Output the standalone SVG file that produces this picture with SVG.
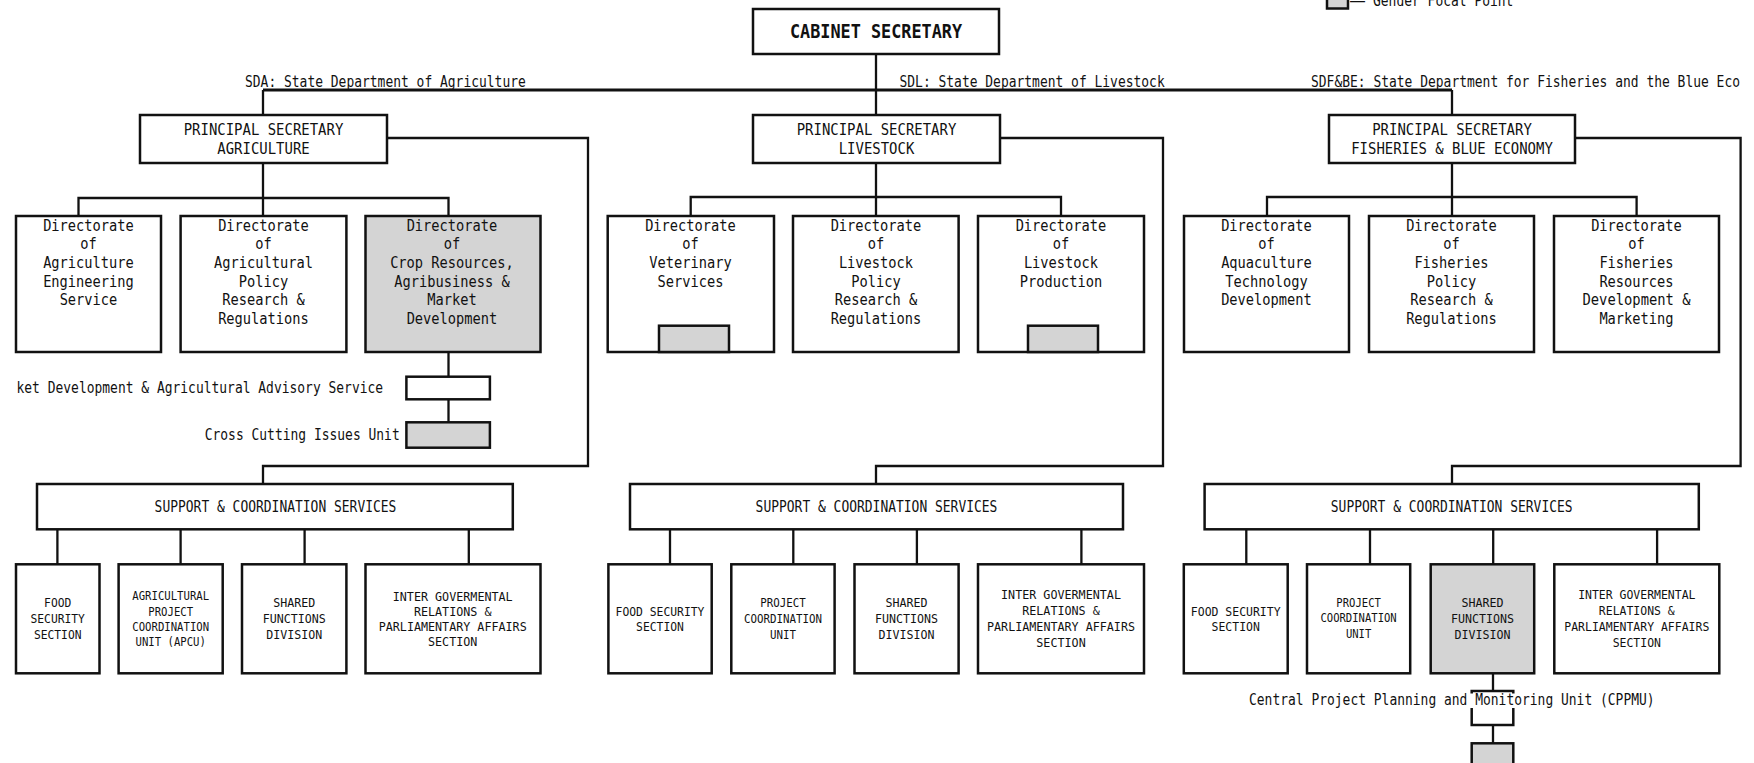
<svg xmlns="http://www.w3.org/2000/svg" width="1754" height="763" viewBox="0 0 1754 763">
<style>
.box{fill:#fff;stroke:#111;stroke-width:2.5}
.grey{fill:#d4d4d4}
.ln{fill:none;stroke:#111;stroke-width:2.3}
.top{stroke-width:2.8}
text{font-family:"DejaVu Sans Mono","Liberation Mono",monospace;fill:#111}
.c{text-anchor:middle}
.f19{font-size:19px;font-weight:bold}
.f16{font-size:16px}
.fd{font-size:15.5px}
.f15{font-size:15px}
.f13{font-size:13px}
.f12{font-size:12px}
</style>
<rect width="1754" height="763" fill="#fff"/>
<g id="connectors">
<path class="ln" d="M876 54V115"/>
<path class="ln top" d="M263 90H1452"/>
<path class="ln" d="M263 90V115M1452 90V115"/>
<path class="ln" d="M263 163V216M78.5 216V198H448.5V216"/>
<path class="ln" d="M387 138H588V466H263V484"/>
<path class="ln" d="M448.5 352V376.7M448.5 399.3V422.3"/>
<path class="ln" d="M57.4 529.3V564.3M180.6 529.3V564.3M304.6 529.3V564.3M468.8 529.3V564.3"/>
<path class="ln" d="M876 163V216M690.7 216V197H1061V216"/>
<path class="ln" d="M1000 138H1163V466H876V484"/>
<path class="ln" d="M670 529.3V564.3M793.3 529.3V564.3M916.9 529.3V564.3M1081.4 529.3V564.3"/>
<path class="ln" d="M1452 163V216M1267 216V197H1636.6V216"/>
<path class="ln" d="M1575 138H1740.6V466H1452V484"/>
<path class="ln" d="M1246.3 529.3V564.3M1370 529.3V564.3M1493.2 529.3V564.3M1657.1 529.3V564.3"/>
<path class="ln" d="M1493 673.3V691M1493 725V743.3"/>
</g>
<g id="legend">
<rect class="box grey" x="1327" y="-4" width="21" height="12.5" stroke-width="2"/>
<text class="f15" x="1350" y="6" textLength="15" lengthAdjust="spacingAndGlyphs">—</text>
<text class="f15" x="1373" y="6" textLength="140.4" lengthAdjust="spacingAndGlyphs">Gender Focal Point</text>
</g>
<g id="dept-labels">
<text class="f15" x="245" y="87" textLength="280.8" lengthAdjust="spacingAndGlyphs">SDA: State Department of Agriculture</text>
<text class="f15" x="899.5" y="87" textLength="265.2" lengthAdjust="spacingAndGlyphs">SDL: State Department of Livestock</text>
<text class="f15" x="1311" y="87" textLength="429" lengthAdjust="spacingAndGlyphs">SDF&amp;BE: State Department for Fisheries and the Blue Eco</text>
</g>
<g id="cabinet">
<rect class="box" x="753" y="9" width="246" height="45"/>
<text class="c f19" x="876" y="38" textLength="172" lengthAdjust="spacingAndGlyphs">CABINET SECRETARY</text>
</g>
<g id="ps-agriculture">
<rect class="box" x="140" y="115" width="247" height="48"/>
<text class="c f16" x="263.5" y="135" textLength="159.6" lengthAdjust="spacingAndGlyphs">PRINCIPAL SECRETARY</text>
<text class="c f16" x="263.5" y="154" textLength="92.4" lengthAdjust="spacingAndGlyphs">AGRICULTURE</text>
</g>
<g id="ps-livestock">
<rect class="box" x="753" y="115" width="247" height="48"/>
<text class="c f16" x="876.5" y="135" textLength="159.6" lengthAdjust="spacingAndGlyphs">PRINCIPAL SECRETARY</text>
<text class="c f16" x="876.5" y="154" textLength="75.6" lengthAdjust="spacingAndGlyphs">LIVESTOCK</text>
</g>
<g id="ps-fisheries">
<rect class="box" x="1329" y="115" width="246" height="48"/>
<text class="c f16" x="1452" y="135" textLength="159.6" lengthAdjust="spacingAndGlyphs">PRINCIPAL SECRETARY</text>
<text class="c f16" x="1452" y="154" textLength="201.6" lengthAdjust="spacingAndGlyphs">FISHERIES &amp; BLUE ECONOMY</text>
</g>
<g id="dir-agri-eng">
<rect class="box" x="16" y="216" width="145" height="136"/>
<text class="c fd" x="88.5" y="230.7" textLength="90.75" lengthAdjust="spacingAndGlyphs">Directorate</text>
<text class="c fd" x="88.5" y="249.3" textLength="16.5" lengthAdjust="spacingAndGlyphs">of</text>
<text class="c fd" x="88.5" y="268" textLength="90.75" lengthAdjust="spacingAndGlyphs">Agriculture</text>
<text class="c fd" x="88.5" y="286.7" textLength="90.75" lengthAdjust="spacingAndGlyphs">Engineering</text>
<text class="c fd" x="88.5" y="305.3" textLength="57.75" lengthAdjust="spacingAndGlyphs">Service</text>
</g>
<g id="dir-agri-policy">
<rect class="box" x="180.6" y="216" width="165.8" height="136"/>
<text class="c fd" x="263.5" y="230.7" textLength="90.75" lengthAdjust="spacingAndGlyphs">Directorate</text>
<text class="c fd" x="263.5" y="249.3" textLength="16.5" lengthAdjust="spacingAndGlyphs">of</text>
<text class="c fd" x="263.5" y="268" textLength="99" lengthAdjust="spacingAndGlyphs">Agricultural</text>
<text class="c fd" x="263.5" y="286.7" textLength="49.5" lengthAdjust="spacingAndGlyphs">Policy</text>
<text class="c fd" x="263.5" y="305.3" textLength="82.5" lengthAdjust="spacingAndGlyphs">Research &amp;</text>
<text class="c fd" x="263.5" y="324" textLength="90.75" lengthAdjust="spacingAndGlyphs">Regulations</text>
</g>
<g id="dir-crop">
<rect class="box grey" x="365.5" y="216" width="175" height="136"/>
<text class="c fd" x="452" y="230.7" textLength="90.75" lengthAdjust="spacingAndGlyphs">Directorate</text>
<text class="c fd" x="452" y="249.3" textLength="16.5" lengthAdjust="spacingAndGlyphs">of</text>
<text class="c fd" x="452" y="268" textLength="123.75" lengthAdjust="spacingAndGlyphs">Crop Resources,</text>
<text class="c fd" x="452" y="286.7" textLength="115.5" lengthAdjust="spacingAndGlyphs">Agribusiness &amp;</text>
<text class="c fd" x="452" y="305.3" textLength="49.5" lengthAdjust="spacingAndGlyphs">Market</text>
<text class="c fd" x="452" y="324" textLength="90.75" lengthAdjust="spacingAndGlyphs">Development</text>
</g>
<g id="market-advisory">
<rect class="box" x="406.4" y="376.7" width="83.5" height="22.6"/>
<text class="f15" x="16.5" y="392.7" textLength="366.6" lengthAdjust="spacingAndGlyphs">ket Development &amp; Agricultural Advisory Service</text>
</g>
<g id="cross-cutting">
<rect class="box grey" x="406.4" y="422.3" width="83.5" height="25.4"/>
<text class="f15" x="204.7" y="440" textLength="195" lengthAdjust="spacingAndGlyphs">Cross Cutting Issues Unit</text>
</g>
<g id="dir-veterinary">
<rect class="box" x="607.7" y="216" width="166.3" height="136"/>
<rect class="box grey" x="659" y="325.7" width="70" height="26.3" stroke-width="2"/>
<text class="c fd" x="690.5" y="230.7" textLength="90.75" lengthAdjust="spacingAndGlyphs">Directorate</text>
<text class="c fd" x="690.5" y="249.3" textLength="16.5" lengthAdjust="spacingAndGlyphs">of</text>
<text class="c fd" x="690.5" y="268" textLength="82.5" lengthAdjust="spacingAndGlyphs">Veterinary</text>
<text class="c fd" x="690.5" y="286.7" textLength="66" lengthAdjust="spacingAndGlyphs">Services</text>
</g>
<g id="dir-livestock-policy">
<rect class="box" x="793" y="216" width="165.6" height="136"/>
<text class="c fd" x="876" y="230.7" textLength="90.75" lengthAdjust="spacingAndGlyphs">Directorate</text>
<text class="c fd" x="876" y="249.3" textLength="16.5" lengthAdjust="spacingAndGlyphs">of</text>
<text class="c fd" x="876" y="268" textLength="74.25" lengthAdjust="spacingAndGlyphs">Livestock</text>
<text class="c fd" x="876" y="286.7" textLength="49.5" lengthAdjust="spacingAndGlyphs">Policy</text>
<text class="c fd" x="876" y="305.3" textLength="82.5" lengthAdjust="spacingAndGlyphs">Research &amp;</text>
<text class="c fd" x="876" y="324" textLength="90.75" lengthAdjust="spacingAndGlyphs">Regulations</text>
</g>
<g id="dir-livestock-production">
<rect class="box" x="978" y="216" width="166" height="136"/>
<rect class="box grey" x="1028" y="325.7" width="70" height="26.3" stroke-width="2"/>
<text class="c fd" x="1061" y="230.7" textLength="90.75" lengthAdjust="spacingAndGlyphs">Directorate</text>
<text class="c fd" x="1061" y="249.3" textLength="16.5" lengthAdjust="spacingAndGlyphs">of</text>
<text class="c fd" x="1061" y="268" textLength="74.25" lengthAdjust="spacingAndGlyphs">Livestock</text>
<text class="c fd" x="1061" y="286.7" textLength="82.5" lengthAdjust="spacingAndGlyphs">Production</text>
</g>
<g id="dir-aquaculture">
<rect class="box" x="1184" y="216" width="165" height="136"/>
<text class="c fd" x="1266.5" y="230.7" textLength="90.75" lengthAdjust="spacingAndGlyphs">Directorate</text>
<text class="c fd" x="1266.5" y="249.3" textLength="16.5" lengthAdjust="spacingAndGlyphs">of</text>
<text class="c fd" x="1266.5" y="268" textLength="90.75" lengthAdjust="spacingAndGlyphs">Aquaculture</text>
<text class="c fd" x="1266.5" y="286.7" textLength="82.5" lengthAdjust="spacingAndGlyphs">Technology</text>
<text class="c fd" x="1266.5" y="305.3" textLength="90.75" lengthAdjust="spacingAndGlyphs">Development</text>
</g>
<g id="dir-fisheries-policy">
<rect class="box" x="1369" y="216" width="165" height="136"/>
<text class="c fd" x="1451.5" y="230.7" textLength="90.75" lengthAdjust="spacingAndGlyphs">Directorate</text>
<text class="c fd" x="1451.5" y="249.3" textLength="16.5" lengthAdjust="spacingAndGlyphs">of</text>
<text class="c fd" x="1451.5" y="268" textLength="74.25" lengthAdjust="spacingAndGlyphs">Fisheries</text>
<text class="c fd" x="1451.5" y="286.7" textLength="49.5" lengthAdjust="spacingAndGlyphs">Policy</text>
<text class="c fd" x="1451.5" y="305.3" textLength="82.5" lengthAdjust="spacingAndGlyphs">Research &amp;</text>
<text class="c fd" x="1451.5" y="324" textLength="90.75" lengthAdjust="spacingAndGlyphs">Regulations</text>
</g>
<g id="dir-fisheries-resources">
<rect class="box" x="1554" y="216" width="165" height="136"/>
<text class="c fd" x="1636.5" y="230.7" textLength="90.75" lengthAdjust="spacingAndGlyphs">Directorate</text>
<text class="c fd" x="1636.5" y="249.3" textLength="16.5" lengthAdjust="spacingAndGlyphs">of</text>
<text class="c fd" x="1636.5" y="268" textLength="74.25" lengthAdjust="spacingAndGlyphs">Fisheries</text>
<text class="c fd" x="1636.5" y="286.7" textLength="74.25" lengthAdjust="spacingAndGlyphs">Resources</text>
<text class="c fd" x="1636.5" y="305.3" textLength="108" lengthAdjust="spacingAndGlyphs">Development &amp;</text>
<text class="c fd" x="1636.5" y="324" textLength="74.25" lengthAdjust="spacingAndGlyphs">Marketing</text>
</g>
<g id="support-agri">
<rect class="box" x="37" y="484" width="475.8" height="45.3"/>
<text class="c f15" x="275.5" y="511.7" textLength="241.8" lengthAdjust="spacingAndGlyphs">SUPPORT &amp; COORDINATION SERVICES</text>
</g>
<g id="support-livestock">
<rect class="box" x="630" y="484" width="493" height="45.3"/>
<text class="c f15" x="876.5" y="511.7" textLength="241.8" lengthAdjust="spacingAndGlyphs">SUPPORT &amp; COORDINATION SERVICES</text>
</g>
<g id="support-fisheries">
<rect class="box" x="1204.6" y="484" width="494.2" height="45.3"/>
<text class="c f15" x="1451.7" y="511.7" textLength="241.8" lengthAdjust="spacingAndGlyphs">SUPPORT &amp; COORDINATION SERVICES</text>
</g>
<g id="agri-food-security">
<rect class="box" x="16" y="564.3" width="83.5" height="109"/>
<text class="c f13" x="57.7" y="607.3" textLength="27.2" lengthAdjust="spacingAndGlyphs">FOOD</text>
<text class="c f13" x="57.7" y="623.3" textLength="54.4" lengthAdjust="spacingAndGlyphs">SECURITY</text>
<text class="c f13" x="57.7" y="639.3" textLength="47.6" lengthAdjust="spacingAndGlyphs">SECTION</text>
</g>
<g id="agri-apcu">
<rect class="box" x="118.6" y="564.3" width="104.1" height="109"/>
<text class="c f12" x="170.7" y="600" textLength="76.8" lengthAdjust="spacingAndGlyphs">AGRICULTURAL</text>
<text class="c f12" x="170.7" y="615.7" textLength="44.8" lengthAdjust="spacingAndGlyphs">PROJECT</text>
<text class="c f12" x="170.7" y="630.7" textLength="76.8" lengthAdjust="spacingAndGlyphs">COORDINATION</text>
<text class="c f12" x="170.7" y="645.5" textLength="70.4" lengthAdjust="spacingAndGlyphs">UNIT (APCU)</text>
</g>
<g id="agri-shared">
<rect class="box" x="242" y="564.3" width="104.4" height="109"/>
<text class="c f13" x="294.2" y="607.3" textLength="42" lengthAdjust="spacingAndGlyphs">SHARED</text>
<text class="c f13" x="294.2" y="623.3" textLength="63" lengthAdjust="spacingAndGlyphs">FUNCTIONS</text>
<text class="c f13" x="294.2" y="639.3" textLength="56" lengthAdjust="spacingAndGlyphs">DIVISION</text>
</g>
<g id="agri-igr">
<rect class="box" x="365.5" y="564.3" width="175" height="109"/>
<text class="c f13" x="452.7" y="600.7" textLength="119.9" lengthAdjust="spacingAndGlyphs">INTER GOVERMENTAL</text>
<text class="c f13" x="452.7" y="615.7" textLength="77.6" lengthAdjust="spacingAndGlyphs">RELATIONS &amp;</text>
<text class="c f13" x="452.7" y="631" textLength="148" lengthAdjust="spacingAndGlyphs">PARLIAMENTARY AFFAIRS</text>
<text class="c f13" x="452.7" y="646" textLength="49.4" lengthAdjust="spacingAndGlyphs">SECTION</text>
</g>
<g id="livestock-food-security">
<rect class="box" x="608.4" y="564.3" width="103.3" height="109"/>
<text class="c f13" x="660" y="615.7" textLength="88.8" lengthAdjust="spacingAndGlyphs">FOOD SECURITY</text>
<text class="c f13" x="660" y="631" textLength="47.8" lengthAdjust="spacingAndGlyphs">SECTION</text>
</g>
<g id="livestock-pcu">
<rect class="box" x="731.3" y="564.3" width="103.3" height="109"/>
<text class="c f12" x="783" y="607.3" textLength="45.5" lengthAdjust="spacingAndGlyphs">PROJECT</text>
<text class="c f12" x="783" y="623.3" textLength="78" lengthAdjust="spacingAndGlyphs">COORDINATION</text>
<text class="c f12" x="783" y="639.3" textLength="26" lengthAdjust="spacingAndGlyphs">UNIT</text>
</g>
<g id="livestock-shared">
<rect class="box" x="854.5" y="564.3" width="104.1" height="109"/>
<text class="c f13" x="906.5" y="607.3" textLength="42" lengthAdjust="spacingAndGlyphs">SHARED</text>
<text class="c f13" x="906.5" y="623.3" textLength="63" lengthAdjust="spacingAndGlyphs">FUNCTIONS</text>
<text class="c f13" x="906.5" y="639.3" textLength="56" lengthAdjust="spacingAndGlyphs">DIVISION</text>
</g>
<g id="livestock-igr">
<rect class="box" x="978" y="564.3" width="166" height="109"/>
<text class="c f13" x="1061" y="599.3" textLength="119.9" lengthAdjust="spacingAndGlyphs">INTER GOVERMENTAL</text>
<text class="c f13" x="1061" y="615" textLength="77.6" lengthAdjust="spacingAndGlyphs">RELATIONS &amp;</text>
<text class="c f13" x="1061" y="631" textLength="148" lengthAdjust="spacingAndGlyphs">PARLIAMENTARY AFFAIRS</text>
<text class="c f13" x="1061" y="646.7" textLength="49.4" lengthAdjust="spacingAndGlyphs">SECTION</text>
</g>
<g id="fisheries-food-security">
<rect class="box" x="1183.8" y="564.3" width="103.9" height="109"/>
<text class="c f13" x="1235.7" y="615.7" textLength="89.7" lengthAdjust="spacingAndGlyphs">FOOD SECURITY</text>
<text class="c f13" x="1235.7" y="631" textLength="48.3" lengthAdjust="spacingAndGlyphs">SECTION</text>
</g>
<g id="fisheries-pcu">
<rect class="box" x="1307" y="564.3" width="103.2" height="109"/>
<text class="c f12" x="1358.6" y="607.3" textLength="44.5" lengthAdjust="spacingAndGlyphs">PROJECT</text>
<text class="c f12" x="1358.6" y="622.3" textLength="76.3" lengthAdjust="spacingAndGlyphs">COORDINATION</text>
<text class="c f12" x="1358.6" y="637.7" textLength="25.4" lengthAdjust="spacingAndGlyphs">UNIT</text>
</g>
<g id="fisheries-shared">
<rect class="box grey" x="1430.7" y="564.3" width="103.5" height="109"/>
<text class="c f13" x="1482.5" y="607.3" textLength="42" lengthAdjust="spacingAndGlyphs">SHARED</text>
<text class="c f13" x="1482.5" y="623.3" textLength="63" lengthAdjust="spacingAndGlyphs">FUNCTIONS</text>
<text class="c f13" x="1482.5" y="639.3" textLength="56" lengthAdjust="spacingAndGlyphs">DIVISION</text>
</g>
<g id="fisheries-igr">
<rect class="box" x="1554.3" y="564.3" width="165" height="109"/>
<text class="c f13" x="1636.8" y="599.3" textLength="117.3" lengthAdjust="spacingAndGlyphs">INTER GOVERMENTAL</text>
<text class="c f13" x="1636.8" y="615" textLength="75.9" lengthAdjust="spacingAndGlyphs">RELATIONS &amp;</text>
<text class="c f13" x="1636.8" y="631" textLength="145" lengthAdjust="spacingAndGlyphs">PARLIAMENTARY AFFAIRS</text>
<text class="c f13" x="1636.8" y="646.7" textLength="48.3" lengthAdjust="spacingAndGlyphs">SECTION</text>
</g>
<g id="cppmu">
<rect class="box" x="1471.7" y="691" width="41.6" height="34"/>
<rect x="1249" y="693.5" width="404" height="14.5" fill="#fff"/>
<text class="f15" x="1249" y="705" textLength="405.6" lengthAdjust="spacingAndGlyphs">Central Project Planning and Monitoring Unit (CPPMU)</text>
</g>
<g id="cppmu-gender-unit">
<rect class="box grey" x="1471.7" y="743.3" width="41.6" height="30"/>
</g>
</svg>
